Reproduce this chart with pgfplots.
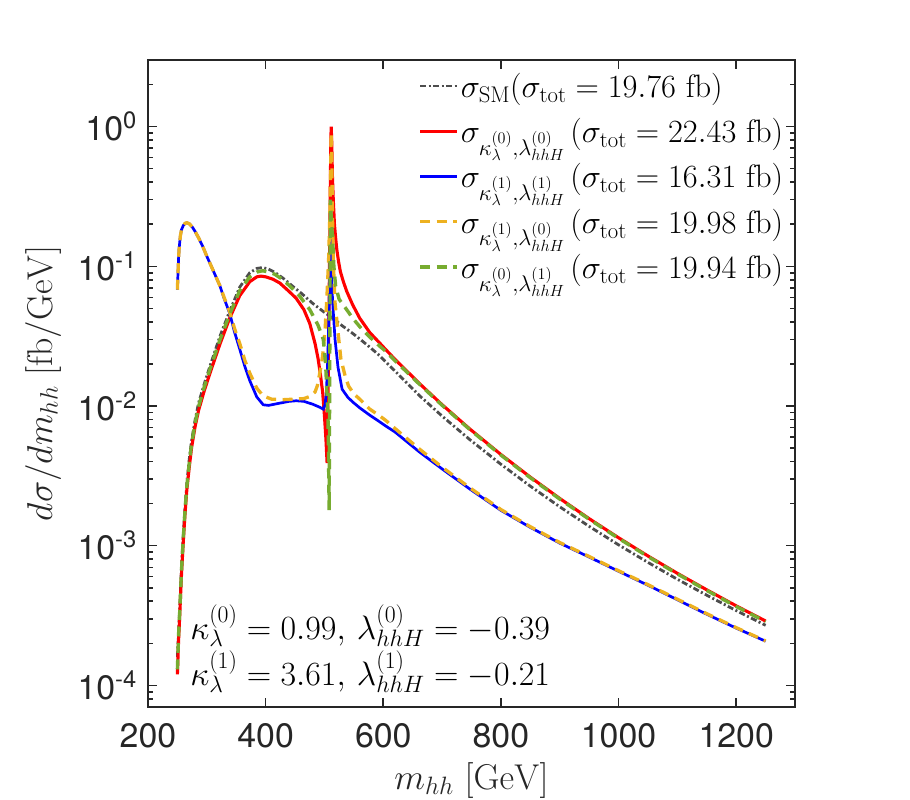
\RequirePackage{fix-cm}
\documentclass[border=0pt]{standalone}
\usepackage[no-math]{fontspec}
\usepackage{pgfplots}
\pgfplotsset{compat=1.18}
\newfontfamily\tickfont{TeX Gyre Heros}
\definecolor{smgray}{RGB}{77,77,77}
\definecolor{myorange}{RGB}{237,177,32}
\definecolor{mygreen}{RGB}{119,172,48}
\definecolor{axgray}{RGB}{38,38,38}
\begin{document}
\begin{tikzpicture}
\fill[white] (-148bp,-93bp) rectangle (762bp,707bp);
\begin{axis}[
  at={(0,0)}, anchor=south west, name=ax,
  scale only axis, width=647bp, height=647bp,
  ymode=log, xmin=200, xmax=1300, ymin=7e-5, ymax=3,
  xtick={200,400,600,800,1000,1200},
  xticklabels={200,400,600,800,1000,1200},
  ytick={1e-4,1e-3,1e-2,1e-1,1},
  yticklabels={10\textsuperscript{-4},10\textsuperscript{-3},10\textsuperscript{-2},10\textsuperscript{-1},10\textsuperscript{0}},
  minor ytick={8e-5,9e-5,2e-4,3e-4,4e-4,5e-4,6e-4,7e-4,8e-4,9e-4,2e-3,3e-3,4e-3,5e-3,6e-3,7e-3,8e-3,9e-3,0.02,0.03,0.04,0.05,0.06,0.07,0.08,0.09,0.2,0.3,0.4,0.5,0.6,0.7,0.8,0.9,2,3},
  tick align=inside,
  major tick length=9bp, minor tick length=5bp,
  every tick/.style={line width=1.6bp, color=axgray},
  axis line style={line width=2.4bp, color=axgray},
  ticklabel style={font=\tickfont\fontsize{34}{40}\selectfont, text=axgray},
  xticklabel style={anchor=base, yshift=-40bp},
  yticklabel style={anchor=east, inner sep=0pt, xshift=-11bp},
  xlabel={$m_{hh}\ [\mathrm{GeV}]$},
  ylabel={$d\sigma/dm_{hh}\ [\mathrm{fb/GeV}]$},
  label style={font=\fontsize{36}{43}\selectfont, text=axgray},
  xlabel style={at={(axis description cs:0.5,-0.113)}, anchor=center},
  ylabel style={at={(axis description cs:-0.162,0.5)}, anchor=center},
  legend style={draw=none, fill=none, at={(rel axis cs:0.985,0.983)}, anchor=north east,
    font=\fontsize{32.5}{37}\selectfont, row sep=15.5bp, inner sep=0pt},
  legend cell align=left,
  legend image code/.code={\draw[#1] (0bp,0bp) -- (37bp,0bp);},
]
\addplot[smgray, line width=2.8bp, dash pattern=on 6bp off 2.5bp on 2bp off 2.5bp] table {
250 1.6e-4
252 2.4e-4
254 3.6e-4
257 7.1e-4
260 1.2e-3
263 1.9e-3
266 2.8e-3
270 4.1e-3
274 5.6e-3
280 7.9e-3
286 0.0105
295 0.0141
305 0.0191
322 0.0313
339 0.0479
356 0.071
373 0.090
385 0.0966
395 0.098
405 0.0955
415 0.091
430 0.082
446 0.072
460 0.0645
480 0.0543
500 0.0468
515 0.0422
530 0.0376
548 0.0331
560 0.0302
577 0.0264
594 0.0229
604 0.0207
620 0.0178
662 0.01181
700 0.00847
747 0.00575
800 0.003827
850 0.002668
900 0.001899
950 0.001376
1000 0.001014
1050 0.000759
1100 0.000575
1150 0.000442
1200 0.000343
1250 0.000269
};
\addlegendentry{$\sigma_{\mathrm{SM}}(\sigma_{\mathrm{tot}}=19.76\ \mathrm{fb})$}
\addplot[red, line width=3.1bp] table {
250 1.2e-4
252 2.1e-4
254 3.2e-4
257 6.3e-4
260 1.07e-3
263 1.7e-3
266 2.5e-3
270 3.6e-3
274 5.0e-3
280 7.1e-3
286 9.3e-3
295 0.0126
305 0.0170
322 0.0275
339 0.0427
356 0.0617
373 0.0776
385 0.0841
392 0.0851
400 0.0841
412 0.081
424 0.076
440 0.066
452 0.059
465 0.049
475 0.039
484 0.028
489 0.022
493 0.017
497 0.0125
500 0.0085
502.5 0.0058
504.5 0.0039
506 0.012
507.5 0.04
509 0.15
510 0.40
511 0.85
511.5 1.0
512.5 0.75
513.5 0.45
515 0.30
517 0.20
519 0.16
521 0.132
524 0.108
527 0.092
532 0.078
538 0.066
548 0.053
560 0.0425
577 0.0336
594 0.0282
604 0.0254
620 0.02156
662 0.01442
700 0.01022
747 0.006855
800 0.004497
850 0.003097
900 0.002179
950 0.001562
1000 0.001140
1050 0.000844
1100 0.000634
1150 0.000483
1200 0.000371
1250 0.000289
};
\addlegendentry{$\sigma_{\kappa_\lambda^{(0)},\lambda_{hhH}^{(0)}}\,(\sigma_{\mathrm{tot}}=22.43\ \mathrm{fb})$}
\addplot[blue, line width=2.7bp] table {
250 0.068
251 0.09
252 0.115
253 0.135
255 0.165
257 0.183
260 0.196
263 0.203
266 0.205
270 0.202
275 0.192
280 0.178
286 0.160
293 0.139
300 0.118
310 0.095
322 0.073
330 0.058
339 0.046
347 0.034
356 0.0255
365 0.019
373 0.0152
385 0.0116
396 0.0102
405 0.0101
420 0.0104
440 0.0108
452 0.0109
465 0.0108
480 0.0103
492 0.0098
498 0.0095
501 0.0102
503 0.0120
505 0.018
507 0.035
509 0.08
510.5 0.17
511.5 0.12
512.5 0.075
514 0.055
515 0.047
518 0.030
523 0.019
530 0.0132
540 0.0115
549 0.0106
560 0.0097
577 0.0086
594 0.0077
604 0.0072
620 0.00651
662 0.004667
700 0.003545
747 0.002547
800 0.001790
850 0.001352
900 0.001043
950 0.000829
1000 0.000656
1050 0.000521
1100 0.000410
1150 0.000323
1200 0.000257
1250 0.000207
};
\addlegendentry{$\sigma_{\kappa_\lambda^{(1)},\lambda_{hhH}^{(1)}}\,(\sigma_{\mathrm{tot}}=16.31\ \mathrm{fb})$}
\addplot[myorange, line width=3.3bp, dash pattern=on 10bp off 6.5bp] table {
250 0.068
251 0.09
252 0.115
253 0.135
255 0.165
257 0.183
260 0.196
263 0.203
266 0.205
270 0.202
275 0.192
280 0.178
286 0.160
293 0.139
300 0.118
310 0.095
322 0.073
330 0.059
339 0.047
347 0.036
356 0.028
365 0.021
373 0.0172
385 0.0134
396 0.0118
410 0.0112
430 0.0111
450 0.0112
465 0.0113
475 0.0117
484 0.0126
488 0.0140
492 0.0172
495 0.020
498 0.025
501 0.035
504 0.058
507 0.11
509 0.22
510.5 0.45
511.5 0.90
512.5 0.60
513.5 0.25
515 0.11
518 0.055
523 0.034
528 0.0216
535 0.0165
541 0.0139
550 0.0122
560 0.0112
577 0.0095
594 0.0085
604 0.0079
620 0.0069
662 0.0049
700 0.00365
747 0.00260
800 0.001815
850 0.001368
900 0.001054
950 0.000837
1000 0.000662
1050 0.000526
1100 0.000414
1150 0.000326
1200 0.000259
1250 0.000208
};
\addlegendentry{$\sigma_{\kappa_\lambda^{(1)},\lambda_{hhH}^{(0)}}\,(\sigma_{\mathrm{tot}}=19.98\ \mathrm{fb})$}
\addplot[mygreen, line width=3.4bp, dash pattern=on 10bp off 6.5bp] table {
250 1.3e-4
252 2.3e-4
254 3.4e-4
257 6.7e-4
260 1.13e-3
263 1.8e-3
266 2.65e-3
270 3.85e-3
274 5.3e-3
280 7.5e-3
286 9.9e-3
295 0.0134
305 0.0181
322 0.0295
339 0.0455
356 0.067
373 0.084
385 0.091
395 0.093
405 0.091
415 0.088
430 0.080
446 0.069
458 0.061
475 0.049
489 0.038
498 0.030
502 0.020
504 0.013
506 0.0085
507 0.004
508 0.0018
509 0.02
510 0.30
511 0.25
512 0.20
514 0.156
516 0.10
519 0.072
525 0.058
532 0.053
549 0.042
560 0.037
577 0.0312
594 0.0268
604 0.0247
620 0.0211
662 0.01425
700 0.01012
747 0.00679
800 0.004452
850 0.003066
900 0.002157
950 0.001546
1000 0.001129
1050 0.000836
1100 0.000628
1150 0.000478
1200 0.000367
1250 0.000286
};
\addlegendentry{$\sigma_{\kappa_\lambda^{(0)},\lambda_{hhH}^{(1)}}\,(\sigma_{\mathrm{tot}}=19.94\ \mathrm{fb})$}
\node[anchor=base west, inner sep=0pt, font=\fontsize{34}{40}\selectfont] at (rel axis cs:0.065,0.1036) {$\kappa_\lambda^{(0)}=0.99,\,\lambda_{hhH}^{(0)}=-0.39$};
\node[anchor=base west, inner sep=0pt, font=\fontsize{34}{40}\selectfont] at (rel axis cs:0.065,0.0325) {$\kappa_\lambda^{(1)}=3.61,\,\lambda_{hhH}^{(1)}=-0.21$};
\end{axis}
\pgfresetboundingbox
\useasboundingbox (-148bp,-93bp) rectangle (762bp,707bp);
\end{tikzpicture}
\end{document}
